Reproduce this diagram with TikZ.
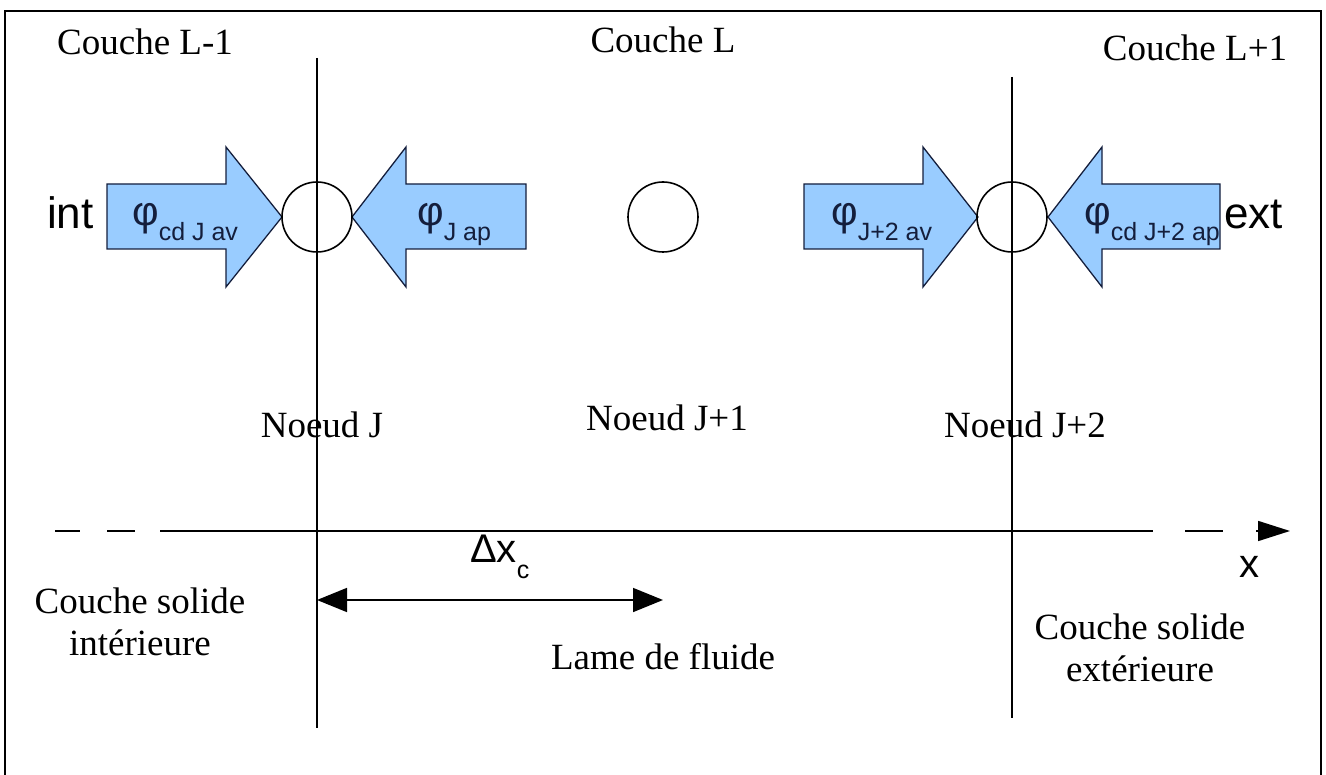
\documentclass[tikz,border=0pt]{standalone}
\usepackage{fontspec}
\setmainfont{Liberation Serif}
\newfontfamily\arialf{Liberation Sans}
\usetikzlibrary{arrows.meta}
\definecolor{flux}{RGB}{153,204,255}
\definecolor{ink}{RGB}{20,30,60}
\tikzset{
  fluxarrow/.style={fill=flux, draw=ink, line width=1.3pt, line join=miter},
  nodecirc/.style={circle, draw, line width=1.6pt, minimum size=70pt, inner sep=0pt},
  seriflbl/.style={font=\fontsize{37}{42}\selectfont, inner sep=0pt, align=center},
  sanslbl/.style={font=\arialf\fontsize{44}{44}\selectfont, inner sep=0pt},
  philbl/.style={font=\arialf\fontsize{41}{41}\selectfont, inner sep=0pt, anchor=base west, text=ink},
  layerline/.style={line width=1.6pt},
  frameline/.style={line width=2.6pt},
  axisline/.style={line width=1.6pt},
  dimarrow/.style={line width=1.6pt, {Triangle[length=30pt,width=24pt]}-{Triangle[length=30pt,width=24pt]}},
}
\newcommand{\phisub}[1]{φ\raisebox{-15pt}{\fontsize{25}{25}\selectfont #1}}
\newcommand{\fluxR}[3]{\draw[fluxarrow] (#1,184) -- (#2,184) -- (#2,147) -- (#3,217) -- (#2,287) -- (#2,249) -- (#1,249) -- cycle;}
\newcommand{\fluxL}[3]{\draw[fluxarrow] (#1,184) -- (#2,184) -- (#2,147) -- (#3,217) -- (#2,287) -- (#2,249) -- (#1,249) -- cycle;}
\begin{document}
\begin{tikzpicture}[x=1pt,y=-1pt]
\useasboundingbox (0,0) rectangle (1326,775);
% frame (open at bottom)
\draw[frameline] (5,775) -- (5,11) -- (1321,11) -- (1321,775);

% flux arrows
\fluxR{107}{226}{282}
\fluxL{526}{406}{352}
\fluxR{804}{923}{978}
\fluxL{1220}{1102}{1048}

% nodes
\node[nodecirc] (nJ)  at (317,217) {};
\node[nodecirc] (nJ1) at (663,217) {};
\node[nodecirc] (nJ2) at (1012,217) {};

% layer lines
\coordinate (l1top) at (317,58);
\coordinate (l1bot) at (317,728);
\coordinate (l2top) at (1012,77);
\coordinate (l2bot) at (1012,718);
\draw[layerline] (l1top) -- (l1bot);
\draw[layerline] (l2top) -- (l2bot);

% flux labels
\node[philbl] (p1) at (132,226) {\phisub{cd J av}};
\node[philbl] (p2) at (417,226) {\phisub{J ap}};
\node[philbl] (p3) at (831,226) {\phisub{J+2 av}};
\node[philbl] (p4) at (1084,226) {\phisub{cd J+2 ap}};
\node[sanslbl, anchor=base west] (int) at (47,229) {int};
\node[sanslbl, anchor=base west] (ext) at (1224,229) {ext};

% layer titles
\node[seriflbl] (cL1) at (145,42) {Couche L-1};
\node[seriflbl] (cL)  at (663,40) {Couche L};
\node[seriflbl] (cL2) at (1195,48) {Couche L+1};

% node titles
\node[seriflbl] (tJ)  at (322,425) {Noeud J};
\node[seriflbl] (tJ1) at (667,418) {Noeud J+1};
\node[seriflbl] (tJ2) at (1025,425) {Noeud J+2};

% x axis
\coordinate (a1) at (55,531);
\coordinate (a2) at (80,531);
\coordinate (a3) at (107,531);
\coordinate (a4) at (135,531);
\coordinate (a5) at (160,531);
\coordinate (a6) at (1153,531);
\coordinate (a7) at (1185,531);
\coordinate (a8) at (1223,531);
\coordinate (a9) at (1256,531);
\coordinate (a10) at (1290,531);
\draw[axisline] (a1) -- (a2);
\draw[axisline] (a3) -- (a4);
\draw[axisline] (a5) -- (a6);
\draw[axisline] (a7) -- (a8);
\draw[axisline, -{Triangle[length=32pt,width=20pt]}] (a9) -- (a10);
\node[sanslbl, font=\arialf\fontsize{40}{40}\selectfont] (xl) at (1249,567) {x};

% dimension
\coordinate (d1) at (317,600);
\coordinate (d2) at (663,600);
\draw[dimarrow] (d1) -- (d2);
\node[sanslbl, font=\arialf\fontsize{40}{40}\selectfont, anchor=base west] (dx) at (470,562) {Δx\raisebox{-16pt}{\fontsize{25}{25}\selectfont c}};

% region labels
\node[seriflbl] (sint) at (140,622) {Couche solide\\intérieure};
\node[seriflbl] (fl)   at (663,657) {Lame de fluide};
\node[seriflbl] (sext) at (1140,648) {Couche solide\\extérieure};
\end{tikzpicture}
\end{document}
